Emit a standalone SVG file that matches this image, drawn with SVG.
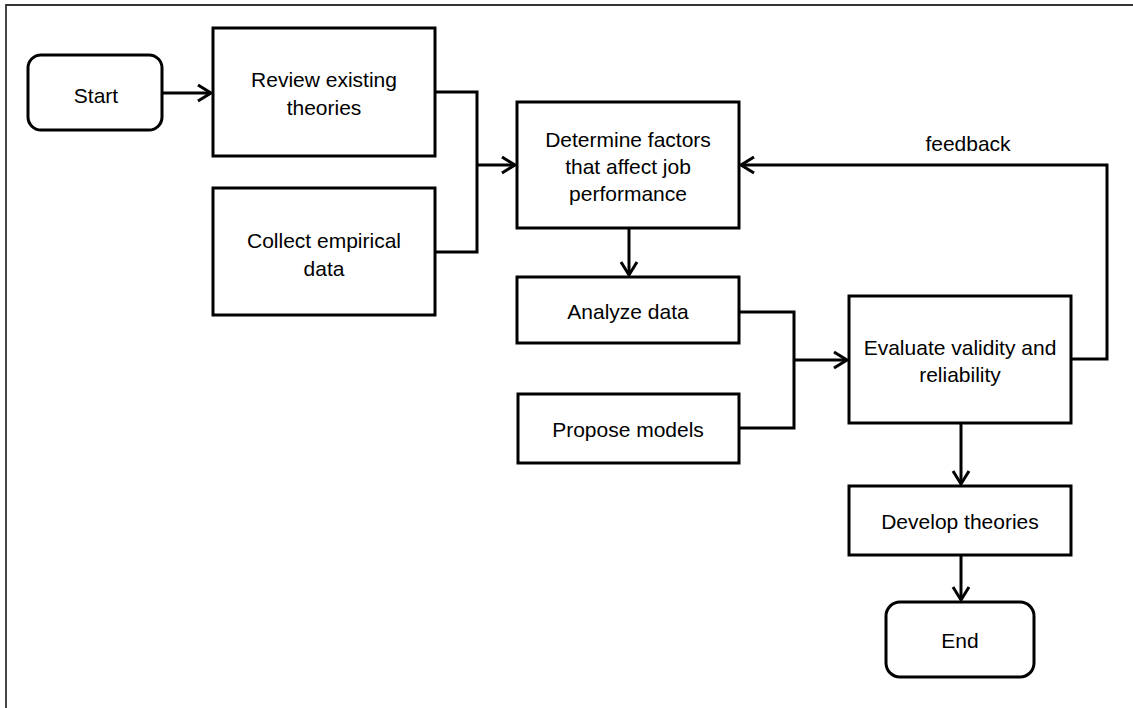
<svg xmlns="http://www.w3.org/2000/svg" width="1133" height="708" viewBox="0 0 1133 708">
<style>
.box{fill:#fff;stroke:#000;stroke-width:3}
.ln{fill:none;stroke:#000;stroke-width:3}
.t{font-family:"Liberation Sans",Arial,sans-serif;font-size:21px;fill:#000;text-anchor:middle}
</style>
<defs>
<marker id="ah" markerUnits="userSpaceOnUse" markerWidth="20" markerHeight="20" viewBox="-16 -10 20 20" refX="0" refY="0" orient="auto">
<path d="M-13,-8 L0,0 L-13,8" fill="none" stroke="#000" stroke-width="3"/>
</marker>
</defs>
<rect width="1133" height="708" fill="#fff"/>
<path d="M6,708 V5 H1133" fill="none" stroke="#333" stroke-width="1.8"/>
<g id="connectors">
<path class="ln" d="M162,93 H211" marker-end="url(#ah)"/>
<path class="ln" d="M435,92 H477 V252 H435"/>
<path class="ln" d="M477,165 H515" marker-end="url(#ah)"/>
<path class="ln" d="M629,228 V275" marker-end="url(#ah)"/>
<path class="ln" d="M739,312 H794 V428 H739"/>
<path class="ln" d="M794,360 H847" marker-end="url(#ah)"/>
<path class="ln" d="M1071,359 H1107 V165 H741" marker-end="url(#ah)"/>
<path class="ln" d="M961,423 V484" marker-end="url(#ah)"/>
<path class="ln" d="M961,555 V600" marker-end="url(#ah)"/>
<text class="t" x="968" y="151">feedback</text>
</g>
<g id="start"><rect class="box" x="28" y="55" width="134" height="75" rx="13"/><text class="t" x="96" y="103">Start</text></g>
<g id="review"><rect class="box" x="213" y="28" width="222" height="128"/><text class="t" x="324" y="87">Review existing</text><text class="t" x="324" y="115">theories</text></g>
<g id="collect"><rect class="box" x="213" y="188" width="222" height="127"/><text class="t" x="324" y="248">Collect empirical</text><text class="t" x="324" y="276">data</text></g>
<g id="determine"><rect class="box" x="517" y="102" width="222" height="126"/><text class="t" x="628" y="147">Determine factors</text><text class="t" x="628" y="174">that affect job</text><text class="t" x="628" y="201">performance</text></g>
<g id="analyze"><rect class="box" x="517" y="277" width="222" height="66"/><text class="t" x="628" y="319">Analyze data</text></g>
<g id="propose"><rect class="box" x="518" y="394" width="221" height="69"/><text class="t" x="628" y="437">Propose models</text></g>
<g id="evaluate"><rect class="box" x="849" y="296" width="222" height="127"/><text class="t" x="960" y="355">Evaluate validity and</text><text class="t" x="960" y="382">reliability</text></g>
<g id="develop"><rect class="box" x="849" y="486" width="222" height="69"/><text class="t" x="960" y="529">Develop theories</text></g>
<g id="end"><rect class="box" x="886" y="602" width="148" height="75" rx="14"/><text class="t" x="960" y="648">End</text></g>
</svg>
